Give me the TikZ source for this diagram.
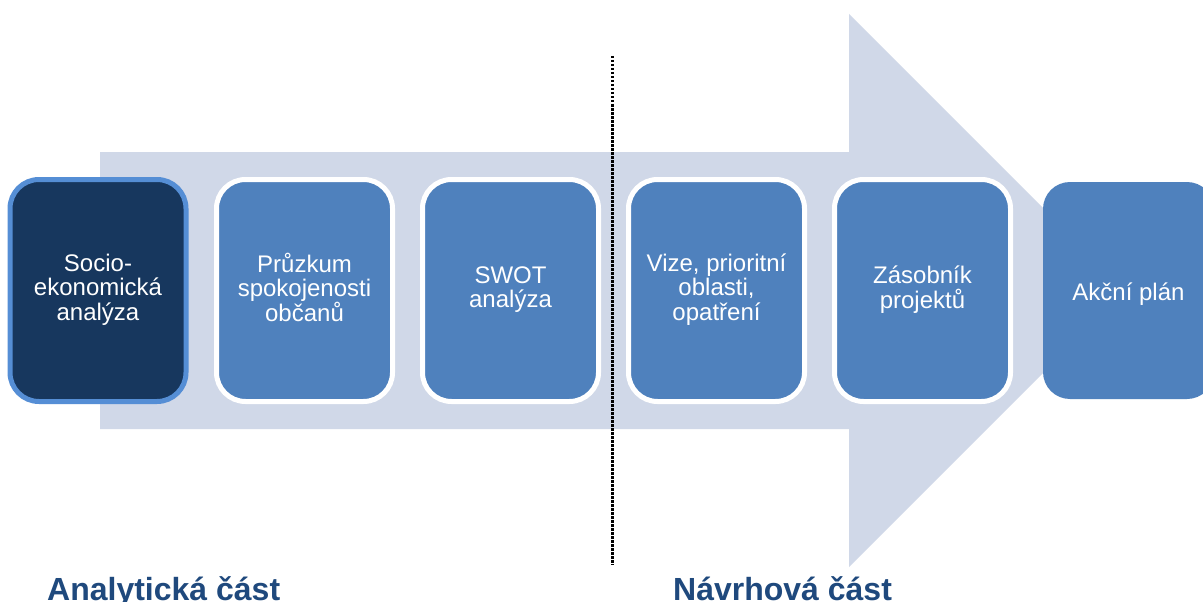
\documentclass[tikz,border=0pt]{standalone}
\usepackage{fontspec}
\setmainfont{Liberation Sans}
\definecolor{arrowfill}{HTML}{D0D8E8}
\definecolor{boxfill}{HTML}{4F81BD}
\definecolor{darkfill}{HTML}{17375E}
\definecolor{darkborder}{HTML}{558ED5}
\definecolor{labelblue}{HTML}{1F497D}
\tikzset{
  stepbox/.style={shape=rectangle, rounded corners=29pt, fill=boxfill, draw=white, line width=5pt,
    minimum width=176pt, minimum height=222pt, inner sep=0pt, text=white, align=center,
    font=\fontsize{24}{24.5}\selectfont,
    execute at begin node={\rule{0pt}{27pt}},
    execute at end node={\rule[-7pt]{0pt}{0pt}}},
  firstbox/.style={stepbox, fill=darkfill, draw=darkborder},
  lastbox/.style={stepbox, draw=none, minimum width=171pt, minimum height=217pt, rounded corners=27pt},
  partlabel/.style={anchor=base west, inner sep=0pt, text=labelblue, font=\fontsize{32}{32}\selectfont\bfseries},
  divider/.style={black, line width=3pt, dash pattern=on 2.5pt off 1.5pt},
}
\begin{document}
\begin{tikzpicture}[x=1pt,y=-1pt]
\clip (0,0) rectangle (1203,602);
\fill[white] (0,0) rectangle (1203,602);
% big background arrow
\fill[arrowfill] (100,152) -- (849,152) -- (849,14) -- (1125.5,290.5) -- (849,567) -- (849,429) -- (100,429) -- cycle;
% steps
\node[firstbox] (b1) at (98,290.5) {Socio-\\ekonomická\\analýza};
\node[stepbox] (b2) at (304.5,290.5) {Průzkum\\spokojenosti\\občanů};
\node[stepbox] (b3) at (510.5,290.5) {SWOT\\analýza};
\node[stepbox] (b4) at (716.5,290.5) {Vize, prioritní\\oblasti,\\opatření};
\node[stepbox] (b5) at (922.5,290.5) {Zásobník\\projektů};
\node[lastbox] (b6) at (1128.5,290.5) {Akční plán};
% divider
\draw[divider] (612,56) -- (612,565);
% part labels
\node[partlabel] (l1) at (47,600) {Analytická část};
\node[partlabel] (l2) at (673,600) {Návrhová část};
\end{tikzpicture}
\end{document}
